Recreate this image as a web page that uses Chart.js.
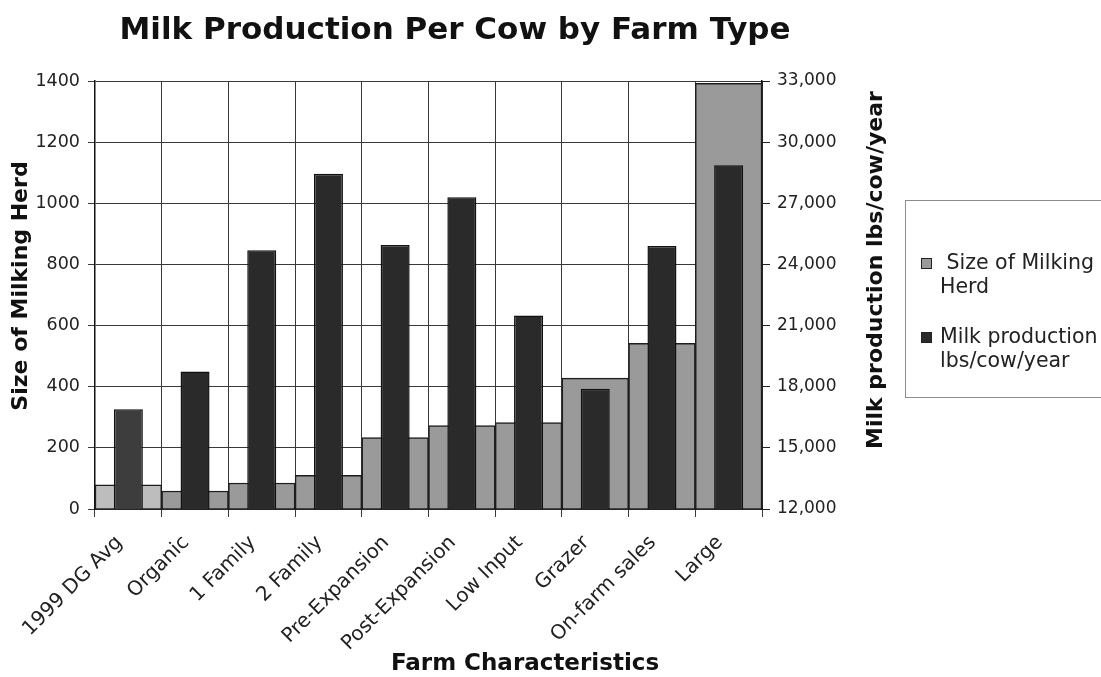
<!DOCTYPE html>
<html>
<head>
<meta charset="utf-8">
<title>Milk Production Per Cow by Farm Type</title>
<script src="https://cdn.jsdelivr.net/npm/chart.js@4/dist/chart.umd.min.js"></script>
<style>
  html, body { margin: 0; padding: 0; background: #ffffff; }
  #wrap { width: 1101px; height: 677px; position: relative; }
</style>
</head>
<body>
<div id="wrap"><canvas id="chart" width="1101" height="677"></canvas></div>
<script>
// Farm categories along the x axis
const farmTypes = [
  '1999 DG Avg', 'Organic', '1 Family', '2 Family', 'Pre-Expansion',
  'Post-Expansion', 'Low Input', 'Grazer', 'On-farm sales', 'Large'
];

// Size of milking herd (cows), left axis
const herdSize = [79, 59, 85, 110, 234, 273, 283, 428, 542, 1392];

// Milk production (lbs/cow/year), right axis
const milkPerCow = [16900, 18750, 24700, 28450, 24950, 27300, 21500, 17900, 24900, 28870];

// Axis ticks
const herdTicks = [0, 200, 400, 600, 800, 1000, 1200, 1400];
const milkTicks = [12000, 15000, 18000, 21000, 24000, 27000, 30000, 33000];

// Series names shown in the legend (wrapped over two lines)
const seriesNames = ['Size of Milking Herd', 'Milk production lbs/cow/year'];
const legendLines = [[' Size of Milking', 'Herd'], ['Milk production', 'lbs/cow/year']];

const FONT = "'DejaVu Sans', Verdana, sans-serif";

const herdColors = herdSize.map((v, i) => i === 0 ? '#bdbdbd' : '#9a9a9a');
const milkColors = milkPerCow.map((v, i) => i === 0 ? '#3d3d3d' : '#2a2a2a');

// Chart title, axis titles and the framed legend, drawn on the canvas
const decorations = {
  id: 'decorations',
  afterDraw(chart) {
    const ctx = chart.ctx;
    ctx.save();
    ctx.fillStyle = '#111111';
    ctx.textBaseline = 'middle';
    ctx.textAlign = 'center';

    // main title
    ctx.font = "bold 31px " + FONT;
    ctx.fillText('Milk Production Per Cow by Farm Type', 455, 31);

    // x axis title
    ctx.font = "bold 23px " + FONT;
    ctx.textBaseline = 'alphabetic';
    ctx.fillText('Farm Characteristics', 525, 670);

    // left axis title (reads bottom to top)
    ctx.font = "bold 22px " + FONT;
    ctx.textBaseline = 'middle';
    ctx.save();
    ctx.translate(21, 286);
    ctx.rotate(-Math.PI / 2);
    ctx.fillText(seriesNames[0], 0, 0);
    ctx.restore();

    // right axis title (reads bottom to top)
    ctx.save();
    ctx.translate(876, 270);
    ctx.rotate(-Math.PI / 2);
    ctx.fillText(seriesNames[1], 0, 0);
    ctx.restore();

    // legend frame
    ctx.strokeStyle = '#8c8c8c';
    ctx.lineWidth = 1;
    ctx.strokeRect(905.5, 200.5, 230, 197);

    ctx.font = "20.5px " + FONT;
    ctx.textAlign = 'left';
    ctx.textBaseline = 'middle';
    const swatches = [herdColors[1], milkColors[1]];
    const rowsY = [[264, 288], [338, 362]];
    swatches.forEach((c, k) => {
      const sy = rowsY[k][0] - 6;
      ctx.fillStyle = c;
      ctx.fillRect(921, sy, 11, 11);
      ctx.strokeStyle = '#222222';
      ctx.strokeRect(921.5, sy + 0.5, 10, 10);
      ctx.fillStyle = '#222222';
      ctx.fillText(legendLines[k][0], 940, rowsY[k][0]);
      ctx.fillText(legendLines[k][1], 940, rowsY[k][1]);
    });
    ctx.restore();
  }
};

new Chart(document.getElementById('chart'), {
  type: 'bar',
  data: {
    labels: farmTypes,
    datasets: [
      {
        label: seriesNames[0],
        data: herdSize,
        yAxisID: 'y',
        backgroundColor: herdColors,
        borderColor: '#1e1e1e',
        borderWidth: 1.5,
        borderSkipped: 'bottom',
        grouped: false,
        barPercentage: 1,
        categoryPercentage: 1,
        order: 2
      },
      {
        label: seriesNames[1],
        data: milkPerCow,
        yAxisID: 'y2',
        backgroundColor: milkColors,
        borderColor: '#111111',
        borderWidth: 1.5,
        borderSkipped: 'bottom',
        grouped: false,
        barPercentage: 0.435,
        categoryPercentage: 1,
        order: 1
      }
    ]
  },
  options: {
    responsive: false,
    animation: false,
    layout: { padding: { top: 81, right: 196, bottom: 0, left: 0 } },
    plugins: {
      legend: { display: false },
      title: { display: false },
      tooltip: { enabled: false }
    },
    scales: {
      x: {
        offset: true,
        grid: {
          offset: true,
          color: '#3a3a3a',
          lineWidth: 1,
          tickLength: 8,
          drawTicks: true
        },
        border: { color: '#111111', width: 1.5 },
        ticks: {
          color: '#222222',
          font: { family: FONT, size: 20 },
          minRotation: 45,
          maxRotation: 45,
          autoSkip: false,
          padding: 14,
          labelOffset: -9
        },
        afterFit(scale) { scale.height = 168; }
      },
      y: {
        position: 'left',
        min: 0,
        max: 1400,
        afterBuildTicks(scale) { scale.ticks = herdTicks.map(v => ({ value: v })); },
        grid: { color: '#3a3a3a', lineWidth: 1, tickLength: 7 },
        border: { color: '#111111', width: 1.5 },
        ticks: {
          color: '#222222',
          font: { family: FONT, size: 17.5 },
          padding: 8,
          callback: (v) => String(v)
        },
        afterFit(scale) { scale.width = 95; }
      },
      y2: {
        position: 'right',
        min: 12000,
        max: 33000,
        afterBuildTicks(scale) { scale.ticks = milkTicks.map(v => ({ value: v })); },
        grid: { drawOnChartArea: false, color: '#222222', tickLength: 8 },
        border: { color: '#111111', width: 1.5 },
        ticks: {
          color: '#222222',
          font: { family: FONT, size: 17 },
          padding: 7,
          callback: (v) => v.toLocaleString('en-US')
        },
        afterFit(scale) { scale.width = 143; }
      }
    }
  },
  plugins: [decorations]
});
</script>
</body>
</html>
